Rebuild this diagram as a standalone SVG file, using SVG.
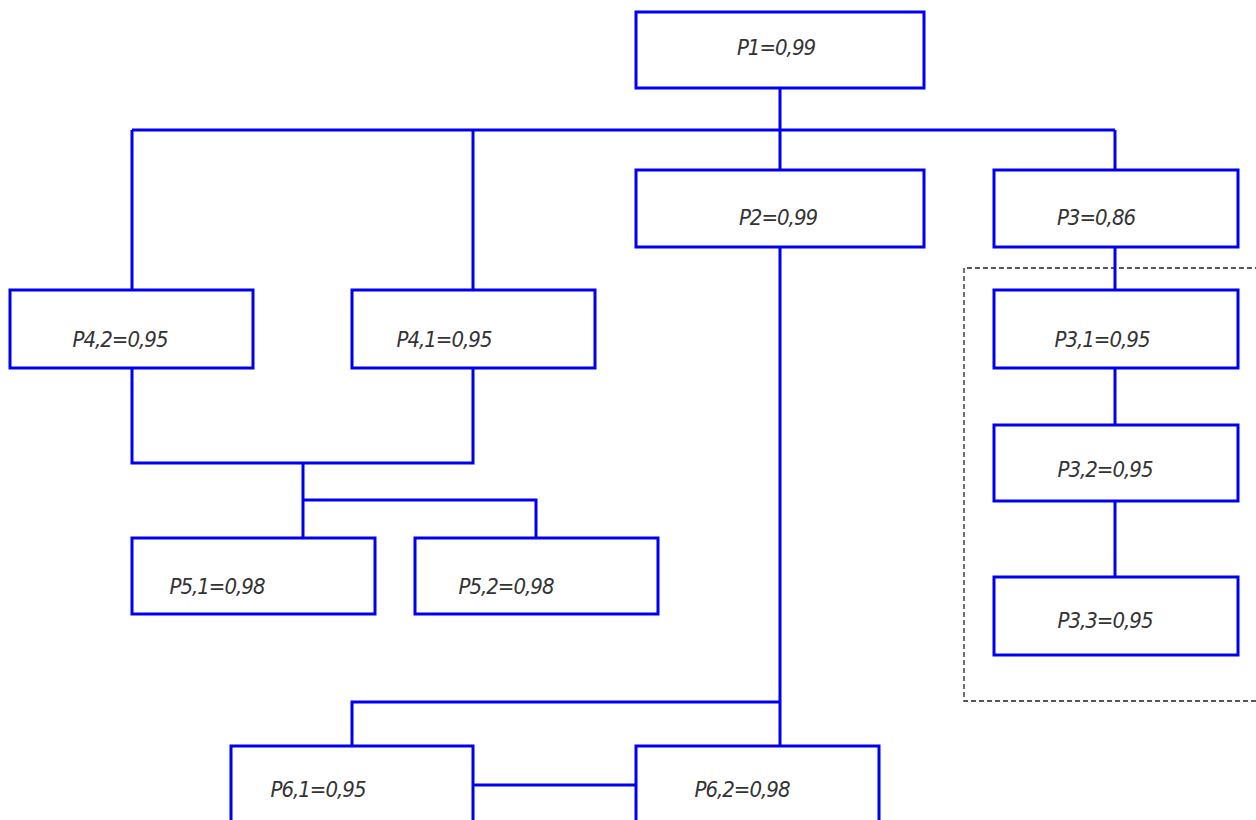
<svg xmlns="http://www.w3.org/2000/svg" width="1256" height="820" viewBox="0 0 1256 820">
  <style>
    .box { fill: #ffffff; stroke: #0000f0; stroke-width: 3; }
    .wire { fill: none; stroke: #0000f0; stroke-width: 3; }
    .frame { fill: none; stroke: #222222; stroke-width: 1.3; stroke-dasharray: 5 3; }
    text { font-family: "DejaVu Sans Condensed", "Liberation Sans Narrow", "Liberation Sans", sans-serif; font-stretch: condensed; font-style: italic; font-size: 22px; fill: #333333; text-anchor: middle; dominant-baseline: central; letter-spacing: -1px; }
  </style>
  <rect width="1256" height="820" fill="#ffffff"/>

  <!-- dashed frame around the P3 sub-chain -->
  <path class="frame" d="M1260,268 H964 V701 H1260"/>

  <g id="connectors">
    <path class="wire" d="M780,88 V130"/>
    <path class="wire" d="M132,130 H1115"/>
    <path class="wire" d="M132,130 V290"/>
    <path class="wire" d="M473,130 V290"/>
    <path class="wire" d="M780,130 V170"/>
    <path class="wire" d="M1115,130 V170"/>
    <path class="wire" d="M1115,247 V290"/>
    <path class="wire" d="M1115,368 V425"/>
    <path class="wire" d="M1115,501 V577"/>
    <path class="wire" d="M132,368 V463 H473 V368"/>
    <path class="wire" d="M303,463 V538"/>
    <path class="wire" d="M303,500 H536 V538"/>
    <path class="wire" d="M780,247 V746"/>
    <path class="wire" d="M780,702 H352 V746"/>
    <path class="wire" d="M473,785 H636"/>
  </g>

  <g id="p1"><rect class="box" x="636" y="12" width="288" height="76"/><text x="776" y="47">P1=0,99</text></g>
  <g id="p2"><rect class="box" x="636" y="170" width="288" height="77"/><text x="778" y="217">P2=0,99</text></g>
  <g id="p3"><rect class="box" x="994" y="170" width="244" height="77"/><text x="1096" y="217">P3=0,86</text></g>
  <g id="p4-2"><rect class="box" x="10" y="290" width="243" height="78"/><text x="120" y="339">P4,2=0,95</text></g>
  <g id="p4-1"><rect class="box" x="352" y="290" width="243" height="78"/><text x="444" y="339">P4,1=0,95</text></g>
  <g id="p3-1"><rect class="box" x="994" y="290" width="244" height="78"/><text x="1102" y="339">P3,1=0,95</text></g>
  <g id="p3-2"><rect class="box" x="994" y="425" width="244" height="76"/><text x="1105" y="469">P3,2=0,95</text></g>
  <g id="p3-3"><rect class="box" x="994" y="577" width="244" height="78"/><text x="1105" y="620">P3,3=0,95</text></g>
  <g id="p5-1"><rect class="box" x="132" y="538" width="243" height="76"/><text x="217" y="586">P5,1=0,98</text></g>
  <g id="p5-2"><rect class="box" x="415" y="538" width="243" height="76"/><text x="506" y="586">P5,2=0,98</text></g>
  <g id="p6-1"><rect class="box" x="231" y="746" width="242" height="90"/><text x="318" y="789">P6,1=0,95</text></g>
  <g id="p6-2"><rect class="box" x="636" y="746" width="243" height="90"/><text x="742" y="789">P6,2=0,98</text></g>
</svg>
